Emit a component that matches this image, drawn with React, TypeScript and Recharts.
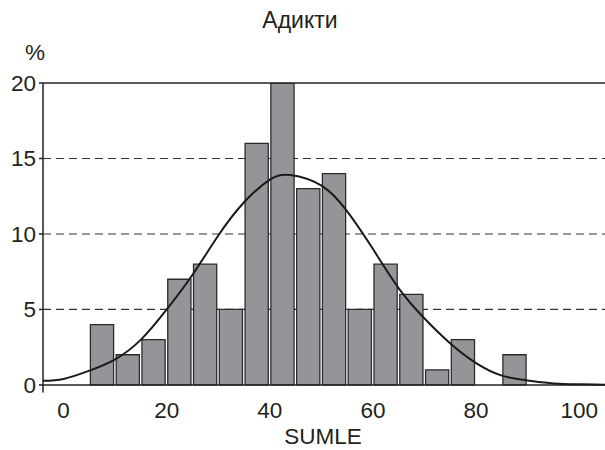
import { ComposedChart, Bar, Line, XAxis, YAxis, CartesianGrid, ReferenceLine } from "recharts";

// histogram bins (midpoints) and percentages
const binMids = [7.5, 12.5, 17.5, 22.5, 27.5, 32.5, 37.5, 42.5, 47.5, 52.5, 57.5, 62.5, 67.5, 72.5, 77.5, 82.5, 87.5];
const binPercent = [4, 2, 3, 7, 8, 5, 16, 20, 13, 14, 5, 8, 6, 1, 3, 0, 2];

// normal curve
const curveX = [-4, 0, 5, 10, 15, 20, 25, 30, 35, 40, 44, 50, 55, 60, 65, 70, 75, 80, 85, 90, 95, 100, 105];
const curveY = [0.27, 0.4, 0.95, 1.7, 3.0, 5.0, 7.3, 9.9, 12.1, 13.6, 13.9, 13.2, 11.5, 9.0, 6.4, 4.4, 2.75, 1.45, 0.62, 0.3, 0.1, 0.04, 0.01];

const xTicks = [0, 20, 40, 60, 80, 100];
const yTicks = [0, 5, 10, 15, 20];
const gridLines = [5, 10, 15];

const bins = binMids.map((x, i) => ({ x, pct: binPercent[i] }));
const curve = curveX.map((x, i) => ({ cx: x, fit: curveY[i] }));

const X_DOMAIN: [number, number] = [-4, 105];
const PLOT_W = 605 - 43;
const BAR_PX = (PLOT_W / (X_DOMAIN[1] - X_DOMAIN[0])) * 5;

const font = "'Liberation Sans', Arial, sans-serif";
const ink = "#231f20";

export default function App() {
  return (
    <div style={{ position: "absolute", left: 0, top: 0, width: 605, height: 450, background: "#fff", fontFamily: font }}>
      <svg width={605} height={450} style={{ position: "absolute", left: 0, top: 0 }}>
        <text x={300} y={28} textAnchor="middle" fontSize={23} fill={ink} fontFamily={font}>
          Адикти
        </text>
        <text x={35} y={60} textAnchor="middle" fontSize={22.5} fill={ink} fontFamily={font}>
          %
        </text>
        <text x={323} y={444} textAnchor="middle" fontSize={22.5} fill={ink} fontFamily={font}>
          SUMLE
        </text>
      </svg>
      <ComposedChart
        width={605}
        height={450}
        data={bins}
        margin={{ top: 83, right: 0, bottom: 27.5, left: 0 }}
        style={{ position: "absolute", left: 0, top: 0 }}
      >
        <CartesianGrid
          vertical={false}
          horizontalValues={gridLines}
          stroke="#333"
          strokeDasharray="8 5"
          strokeWidth={1.2}
        />
        <XAxis
          dataKey="x"
          type="number"
          domain={X_DOMAIN}
          ticks={xTicks}
          allowDataOverflow
          axisLine={false}
          tickLine={false}
          height={30}
          tick={{ fontSize: 22.5, fill: ink, fontFamily: font }}
          tickMargin={4}
        />
        <XAxis xAxisId="curve" dataKey="cx" type="number" domain={X_DOMAIN} allowDataOverflow hide />
        <YAxis
          type="number"
          domain={[-0.5, 20]}
          ticks={yTicks}
          allowDataOverflow
          width={43}
          axisLine={{ stroke: "#222", strokeWidth: 1.5 }}
          tickLine={{ stroke: "#222", strokeWidth: 1.5 }}
          tickSize={4}
          tickMargin={3}
          tick={{ fontSize: 22.5, fill: ink, fontFamily: font }}
        />
        <ReferenceLine y={0} stroke="#222" strokeWidth={1.5} />
        <ReferenceLine y={20} stroke="#222" strokeWidth={1.5} />
        <Bar dataKey="pct" barSize={BAR_PX} fill="#939598" stroke="#2b2b2b" strokeWidth={1.3} isAnimationActive={false} />
        <Line
          xAxisId="curve"
          data={curve}
          dataKey="fit"
          type="natural"
          stroke="#1a1a1a"
          strokeWidth={2}
          dot={false}
          activeDot={false}
          isAnimationActive={false}
        />
      </ComposedChart>
    </div>
  );
}
